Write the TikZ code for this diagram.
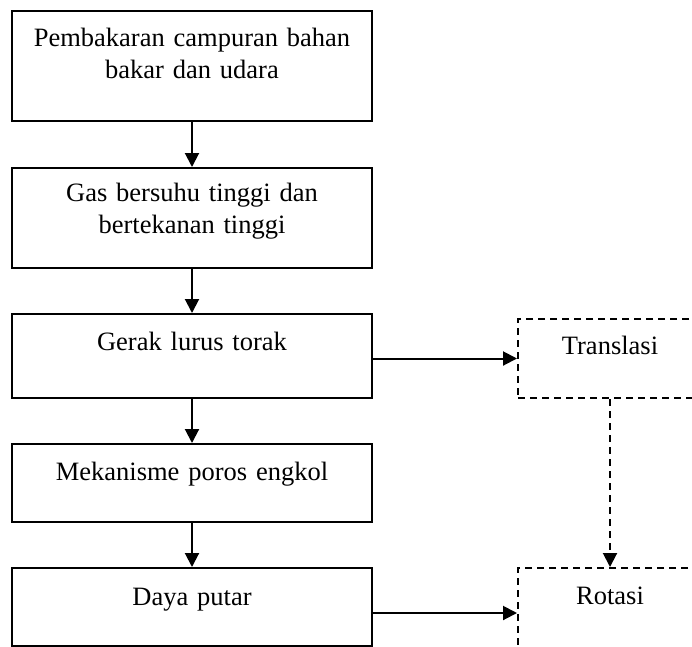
\documentclass[tikz,border=0pt]{standalone}
\usepackage{fontspec}
\setmainfont{Liberation Serif}
\usetikzlibrary{arrows.meta,positioning}
\tikzset{
  procbox/.style={draw=black, line width=2pt, align=center, font=\fontsize{26.5}{32}\selectfont, inner xsep=5pt, inner ysep=0pt, text width=350pt, anchor=north},
  resbox/.style={procbox, dash pattern=on 7pt off 5pt, text width=174pt},
  farr/.style={-{Triangle[length=14pt,width=14pt]}, line width=2pt},
  darr/.style={farr, dash pattern=on 7pt off 5pt}
}
\begin{document}
\begin{tikzpicture}[x=1pt,y=-1pt]
\useasboundingbox (0,0) rectangle (692,646);
\clip (0,0) rectangle (692,646);
\node[procbox, text height=35pt, text depth=75pt] (b1) at (192,10) {Pembakaran campuran bahan\\bakar dan udara};
\node[procbox, text height=33pt, text depth=67pt] (b2) at (192,167) {Gas bersuhu tinggi dan\\bertekanan tinggi};
\node[procbox, text height=36pt, text depth=48pt] (b3) at (192,313) {Gerak lurus torak};
\node[procbox, text height=36pt, text depth=42pt] (b4) at (192,443) {Mekanisme poros engkol};
\node[procbox, text height=37pt, text depth=41pt] (b5) at (192,567) {Daya putar};
\node[resbox, text height=35pt, text depth=44pt] (trans) at (610,318) {Translasi};
\node[resbox, text height=36pt, text depth=54pt] (rot) at (610,567) {Rotasi};
\draw[farr] (b1)--(b2);
\draw[farr] (b2)--(b3);
\draw[farr] (b3)--(b4);
\draw[farr] (b4)--(b5);
\draw[farr] (b3.east |- trans) -- (trans.west);
\draw[farr] (b5.east |- rot) -- (rot.west);
\draw[darr] (trans)--(rot);
\end{tikzpicture}
\end{document}
